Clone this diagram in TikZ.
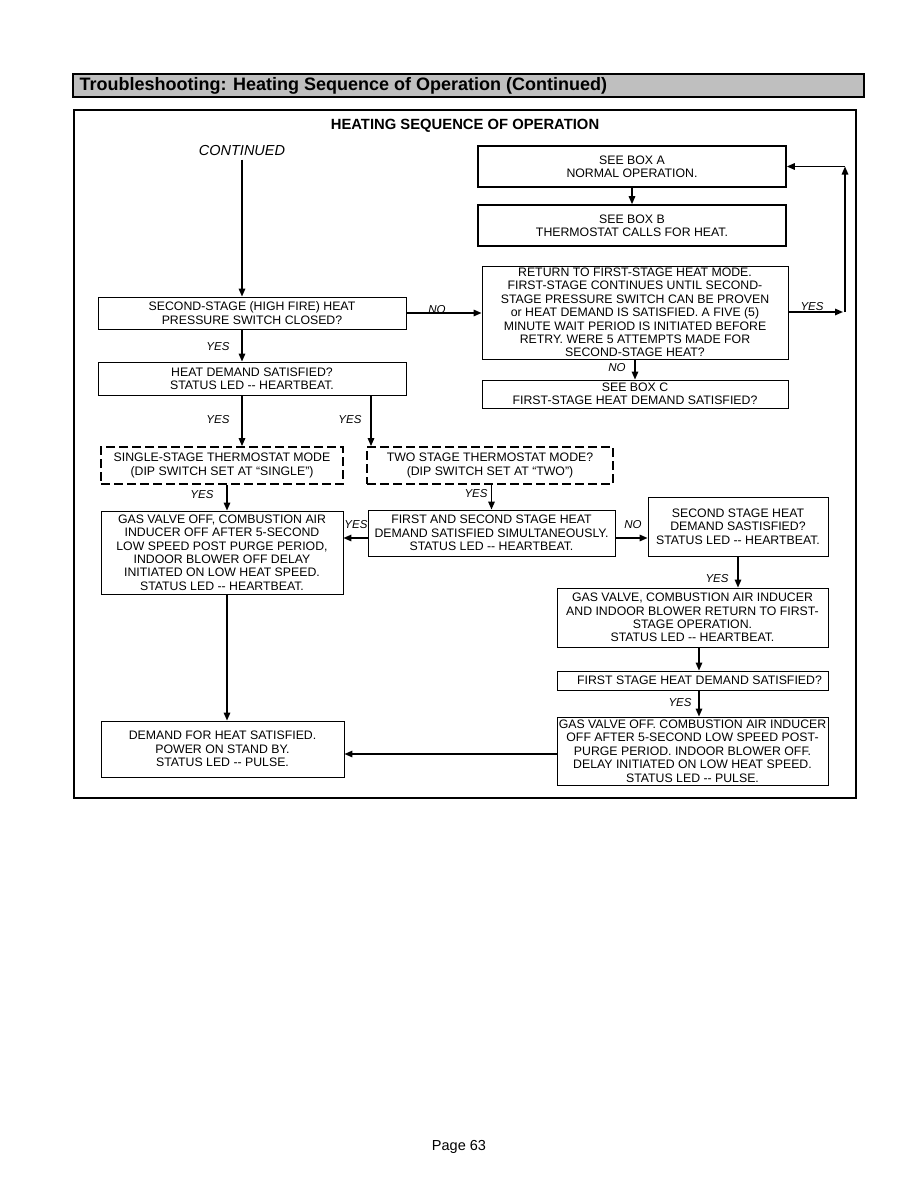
\documentclass[tikz,border=0pt]{standalone}
\usepackage{fontspec}
\setmainfont{Liberation Sans}
\usetikzlibrary{arrows.meta}

\tikzset{
  box/.style={draw, line width=0.9pt, align=center, inner sep=0pt,
    font=\fontsize{12.3}{13.4}\selectfont},
  boldbox/.style={box, line width=1.6pt},
  dashbox/.style={box, line width=1.8pt, dash pattern=on 9pt off 4pt},
  lbl/.style={font=\fontsize{11.5}{13}\selectfont\itshape},
  arr/.style={line width=1.5pt, -{Triangle[length=8pt,width=6.5pt]}}
}

\begin{document}
\begin{tikzpicture}[x=1pt, y=-1pt]
  \useasboundingbox[fill=white] (0,0) rectangle (918,1188);
  % header bar and frame
  \draw[line width=1.8pt, fill=black!25] (73,74) rectangle (864,97);
  \node[anchor=west, font=\fontsize{18}{20}\selectfont\bfseries] (title) at (76,86)
    {Troubleshooting: Heating Sequence of Operation (Continued)};
  \draw[line width=2.4pt] (74,110) rectangle (856,798);
  \node[font=\fontsize{14.8}{16}\selectfont\bfseries] (head) at (465,126) {HEATING SEQUENCE OF OPERATION};
  \node[font=\fontsize{14.5}{16}\selectfont\itshape] (cont) at (242,151) {CONTINUED};

  % boxes
  \node[boldbox, minimum width=308, minimum height=41] (boxa) at (632,166.5) {SEE BOX A\\NORMAL OPERATION.};
  \node[boldbox, minimum width=308, minimum height=41] (boxb) at (632,225.5) {SEE BOX B\\THERMOSTAT CALLS FOR HEAT.};
  \node[box, minimum width=306, minimum height=93] (retry) at (635,312.5)
    {RETURN TO FIRST-STAGE HEAT MODE.\\FIRST-STAGE CONTINUES UNTIL SECOND-\\STAGE PRESSURE SWITCH CAN BE PROVEN\\or HEAT DEMAND IS SATISFIED. A FIVE (5)\\MINUTE WAIT PERIOD IS INITIATED BEFORE\\RETRY. WERE 5 ATTEMPTS MADE FOR\\SECOND-STAGE HEAT?};
  \node[box, minimum width=306, minimum height=28] (boxc) at (635,394) {SEE BOX C\\FIRST-STAGE HEAT DEMAND SATISFIED?};
  \node[box, minimum width=308, minimum height=32] (press) at (252,313) {SECOND-STAGE (HIGH FIRE) HEAT\\PRESSURE SWITCH CLOSED?};
  \node[box, minimum width=308, minimum height=33] (demand) at (252,378.5) {HEAT DEMAND SATISFIED?\\STATUS LED -{}- HEARTBEAT.};
  \node[dashbox, minimum width=242, minimum height=37] (single) at (222,465.5) {SINGLE-STAGE THERMOSTAT MODE\\(DIP SWITCH SET AT “SINGLE”)};
  \node[dashbox, minimum width=246, minimum height=37] (two) at (490,465.5) {TWO STAGE THERMOSTAT MODE?\\(DIP SWITCH SET AT “TWO”)};
  \node[box, minimum width=242, minimum height=83] (gasoff) at (222,552.5)
    {GAS VALVE OFF, COMBUSTION AIR\\INDUCER OFF AFTER 5-SECOND\\LOW SPEED POST PURGE PERIOD,\\INDOOR BLOWER OFF DELAY\\INITIATED ON LOW HEAT SPEED.\\STATUS LED -{}- HEARTBEAT.};
  \node[box, minimum width=247, minimum height=46] (both) at (491.5,533)
    {FIRST AND SECOND STAGE HEAT\\DEMAND SATISFIED SIMULTANEOUSLY.\\STATUS LED -{}- HEARTBEAT.};
  \node[box, minimum width=180, minimum height=59] (second) at (738,526.5)
    {SECOND STAGE HEAT\\DEMAND SASTISFIED?\\STATUS LED -{}- HEARTBEAT.};
  \node[box, minimum width=271, minimum height=59] (back) at (692.5,617.5)
    {GAS VALVE, COMBUSTION AIR INDUCER\\AND INDOOR BLOWER RETURN TO FIRST-\\STAGE OPERATION.\\STATUS LED -{}- HEARTBEAT.};
  \node[box, minimum width=271, minimum height=19] (first) at (692.5,680.5) {\hspace{14pt}FIRST STAGE HEAT DEMAND SATISFIED?};
  \node[box, minimum width=271, minimum height=68] (gasend) at (692.5,751)
    {GAS VALVE OFF. COMBUSTION AIR INDUCER\\OFF AFTER 5-SECOND LOW SPEED POST-\\PURGE PERIOD. INDOOR BLOWER OFF.\\DELAY INITIATED ON LOW HEAT SPEED.\\STATUS LED -{}- PULSE.};
  \node[box, minimum width=243, minimum height=56] (standby) at (222.5,749)
    {DEMAND FOR HEAT SATISFIED.\\POWER ON STAND BY.\\STATUS LED -{}- PULSE.};

  % helper points
  \coordinate (xtwo) at (371,0);
  \coordinate (xleft) at (227,0);
  \coordinate (xright) at (699,0);
  \coordinate (loop) at (845,312);

  % connectors
  \draw[arr] (cont.south) -- (cont.south |- press.north);
  \draw[arr] (cont |- press.south) -- (cont |- demand.north);
  \draw[arr] (press.east) -- (press.east -| retry.west);
  \draw[arr] (boxa.south) -- (boxb.north);
  \draw[arr] (retry.east |- loop) -- ([xshift=-2pt]loop);
  \draw[arr] (loop) -- (loop |- boxa.east);
  \draw[arr] (loop |- boxa.east) -- (boxa.east);
  \draw[arr] (retry.south) -- (boxc.north);
  \draw[arr] (cont |- demand.south) -- (cont |- single.north);
  \draw[arr] (xtwo |- demand.south) -- (xtwo |- two.north);
  \draw[arr] (xleft |- single.south) -- (xleft |- gasoff.north);
  \draw[arr] (both.north |- two.south) -- (both.north);
  \draw[arr] ([yshift=-5pt]both.west) -- ([yshift=-5pt]both.west -| gasoff.east);
  \draw[arr] ([yshift=-5pt]both.east) -- ([yshift=-5pt]both.east -| second.west);
  \draw[arr] (second.south) -- (second.south |- back.north);
  \draw[arr] (xright |- back.south) -- (xright |- first.north);
  \draw[arr] (xright |- first.south) -- (xright |- gasend.north);
  \draw[arr] ([yshift=-3pt]gasend.west) -- ([yshift=-3pt]gasend.west -| standby.east);
  \draw[arr] (xleft |- gasoff.south) -- (xleft |- standby.north);

  % branch labels
  \foreach \x/\y [count=\i] in {218/347, 812/307, 218/420, 350/420, 202/495, 476/494, 356/525, 717/579, 680/703}
    \node[lbl] (yes\i) at (\x,\y) {YES};
  \foreach \x/\y [count=\i] in {437/310, 617/368, 633/525}
    \node[lbl] (no\i) at (\x,\y) {NO};

  \node[font=\fontsize{14.5}{16}\selectfont] (page) at (459,1147) {Page 63};
\end{tikzpicture}
\end{document}
